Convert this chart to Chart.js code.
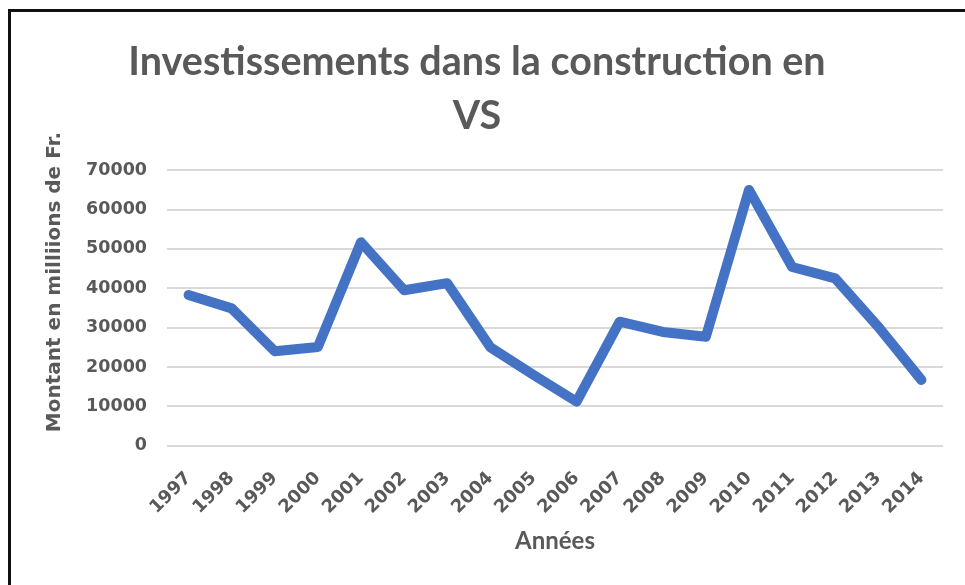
<!DOCTYPE html>
<html>
<head>
<meta charset="utf-8">
<script src="https://cdn.jsdelivr.net/npm/chart.js@4/dist/chart.umd.min.js"></script>
<style>
  html, body { margin: 0; padding: 0; background: #ffffff; }
  #frame {
    position: absolute; left: 8px; top: 9px;
    width: 954px; height: 573px;
    border-left: 3px solid #111; border-top: 3px solid #111;
  }
  #wrap { position: absolute; left: 0; top: 0; width: 954px; height: 573px; }
</style>
</head>
<body>
<div id="frame"><div id="wrap"><canvas id="c"></canvas></div></div>
<script>
// ---- data ----
const categories = ['1997','1998','1999','2000','2001','2002','2003','2004','2005','2006','2007','2008','2009','2010','2011','2012','2013','2014'];
const investValues = [38300, 34900, 24000, 25100, 51700, 39500, 41300, 25000, 18000, 11200, 31500, 28900, 27700, 65000, 45400, 42500, 30200, 16700];
const yTickValues = [0, 10000, 20000, 30000, 40000, 50000, 60000, 70000];
const titleLines = ['Investissements dans la construction en', 'VS'];
const yTitle = 'Montant en milliions de Fr.';
const xTitle = 'Années';

const TEXT = '#595959';

const yTitlePlugin = {
  id: 'yTitle',
  afterDraw(chart) {
    const ctx = chart.ctx;
    ctx.save();
    ctx.translate(44, 270);
    ctx.rotate(-Math.PI / 2);
    ctx.font = 'bold 20px "DejaVu Sans"';
    ctx.fillStyle = TEXT;
    ctx.textAlign = 'center';
    ctx.textBaseline = 'middle';
    ctx.fillText(yTitle, 0, 0);
    ctx.restore();
  }
};

new Chart(document.getElementById('c'), {
  type: 'line',
  data: {
    labels: categories,
    datasets: [{
      data: investValues,
      borderColor: '#4472C4',
      backgroundColor: '#4472C4',
      borderWidth: 10,
      pointRadius: 0,
      tension: 0,
      borderJoinStyle: 'round',
      borderCapStyle: 'round',
      fill: false
    }]
  },
  options: {
    responsive: true,
    maintainAspectRatio: false,
    animation: false,
    layout: { padding: { left: 0, right: 22, top: 0, bottom: 0 } },
    plugins: {
      legend: { display: false },
      tooltip: { enabled: false },
      title: {
        display: true,
        text: titleLines,
        color: TEXT,
        font: { family: 'Lato', weight: 'bold', size: 39.5, lineHeight: 1.37 },
        padding: { top: 23.5, bottom: 26.5 }
      }
    },
    scales: {
      x: {
        offset: true,
        grid: { display: false },
        border: { display: false },
        ticks: {
          color: TEXT,
          autoSkip: false,
          maxRotation: 45,
          minRotation: 45,
          padding: 14,
          font: { family: 'DejaVu Sans', weight: 'bold', size: 18 }
        },
        title: {
          display: true,
          text: xTitle,
          color: TEXT,
          font: { family: 'Lato', weight: 'bold', size: 24 },
          padding: { top: 0, bottom: 29.6 }
        },
        afterFit(scale) { scale.height = 139.3; }
      },
      y: {
        min: 0,
        max: 70000,
        border: { display: false },
        grid: { color: '#D9D9D9', lineWidth: 2, drawTicks: false },
        afterBuildTicks(scale) { scale.ticks = yTickValues.map(v => ({ value: v })); },
        ticks: {
          color: TEXT,
          padding: 20,
          font: { family: 'DejaVu Sans', weight: 'bold', size: 17.5 },
          callback: (v) => String(v)
        },
        afterFit(scale) { scale.width = 156; }
      }
    }
  },
  plugins: [yTitlePlugin]
});
</script>
</body>
</html>
